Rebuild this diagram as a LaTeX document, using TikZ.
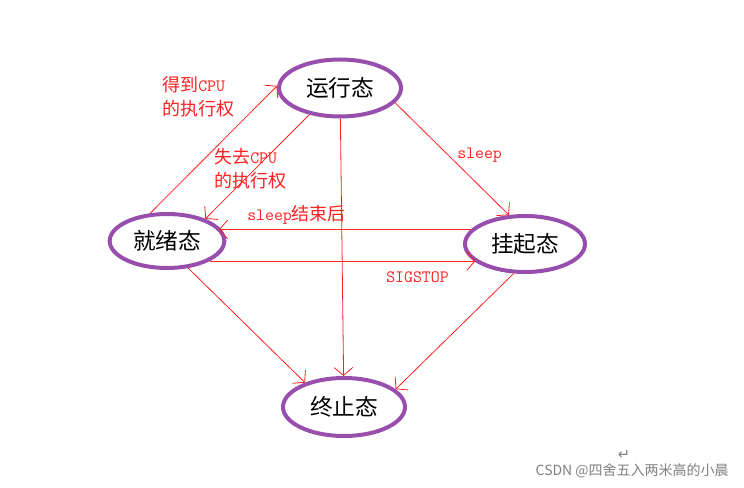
\documentclass[tikz,border=0pt]{standalone}
\usepackage{fontspec}
\setmainfont{Noto Sans CJK SC}
\newfontfamily\symfont{DejaVu Sans}
\usetikzlibrary{arrows.meta,shapes.geometric}
\definecolor{PSpurple}{RGB}{152,78,172}
\definecolor{PSred}{RGB}{255,32,32}
\definecolor{PSgray}{RGB}{128,128,128}
\newcommand{\lat}[1]{{\ttfamily\fontsize{13}{18}\selectfont #1}}
\tikzset{
  state/.style={ellipse,draw=PSpurple,line width=3pt,fill=white,inner sep=0pt,
                text=black,font=\fontsize{17}{20}\selectfont},
  flow/.style={-{Straight Barb[length=6pt,width=14pt]},line width=0.6pt,draw=PSred},
  lbl/.style={text=PSred,align=left,inner sep=0pt,font=\fontsize{13.5}{18}\selectfont},
  wmark/.style={text=PSgray,inner sep=0pt,font=\fontsize{10.5}{12}\selectfont},
}

\begin{document}
\begin{tikzpicture}[x=0.75pt,y=-0.75pt]
    \useasboundingbox (0,0) rectangle (744,488);
    \node[state,minimum width=91.5pt,minimum height=42.75pt] (run) at (340,88) {运行态};
    \node[state,minimum width=86pt,minimum height=40.5pt] (ready) at (167,241) {就绪态};
    \node[state,minimum width=90pt,minimum height=42pt] (hang) at (525,244) {挂起态};
    \node[state,minimum width=91.5pt,minimum height=43.5pt] (term) at (344,407) {终止态};
    \node[lbl,anchor=north west] (getcpu) at (162,76) {得到\lat{CPU}\\的执行权};
    \node[lbl,anchor=north west] (losecpu) at (214,148) {失去\lat{CPU}\\的执行权};
    \node[lbl,anchor=west] (wake) at (247,215) {\lat{sleep}结束后};
    \node[lbl,anchor=west] (sleep) at (457,155) {\lat{sleep}};
    \node[lbl,anchor=west] (stop) at (386,277) {\lat{SIGSTOP}};
    \draw[flow] (ready.121) -- (run.178);
    \draw[flow] (run.221) -- (ready.30);
    \draw[flow] (run) -- (term);
    \draw[flow] (run.-15) -- (hang.119);
    \draw[flow] (hang.165) -- (hang.165 -| ready.15);
    \draw[flow] (ready.-25) -- (ready.-25 -| hang.200);
    \draw[flow] (ready.-52) -- (term.148);
    \draw[flow] (hang.-111) -- (term.19);
    \node[wmark,font={\symfont\fontsize{11}{12}\selectfont}] (ret) at (624,455) {↵};
    \node[wmark,anchor=east] (wm) at (729,471) {CSDN @四舍五入两米高的小晨};
  \end{tikzpicture}
\end{document}
